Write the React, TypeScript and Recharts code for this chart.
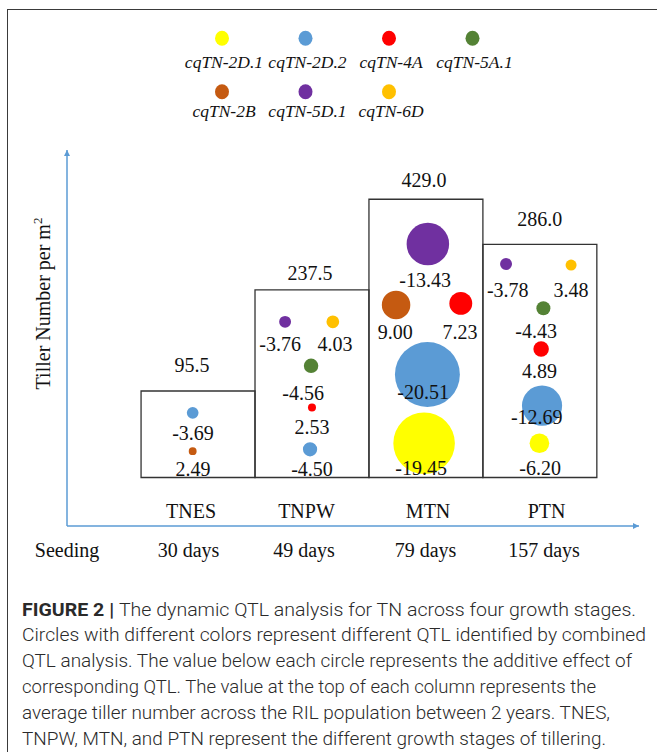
import React from 'react';
import { ComposedChart, ReferenceArea, Scatter, XAxis, YAxis, ZAxis, Legend } from 'recharts';

// ---------------- data ----------------
const stages = ['TNES', 'TNPW', 'MTN', 'PTN'];
const stageDays = ['30 days', '49 days', '79 days', '157 days'];
const originLabel = 'Seeding';
const meanTillerNumber = [95.5, 237.5, 429.0, 286.0];

const qtlNames = ['cqTN-2D.1', 'cqTN-2D.2', 'cqTN-4A', 'cqTN-5A.1', 'cqTN-2B', 'cqTN-5D.1', 'cqTN-6D'];
const qtlColors = ['#FFFF00', '#5B9BD5', '#FF0000', '#548235', '#C55A11', '#7030A0', '#FFC000'];

// additive effect of each QTL at each stage (null = not detected)
const effect2D1 = [null, null, -19.45, -6.2];
const effect2D2 = [-3.69, -4.5, -20.51, -12.69];
const effect4A = [null, 2.53, 7.23, 4.89];
const effect5A1 = [null, -4.56, null, -4.43];
const effect2B = [2.49, null, 9.0, null];
const effect5D1 = [null, -3.76, -13.43, -3.78];
const effect6D = [null, 4.03, null, 3.48];
const qtlEffects: any[] = [effect2D1, effect2D2, effect4A, effect5A1, effect2B, effect5D1, effect6D];

// ---------------- schematic placement (offset across column, level 0-100) ----------------
const spot2D1 = [null, null, [-0.016, 22.0], [-0.004, 22.0]];
const spot2D2 = [[-0.047, 30.1], [-0.017, 20.4], [0.013, 40.3], [0.019, 32.0]];
const spot4A = [null, [0, 31.5], [0.306, 59.2], [0.011, 47.1]];
const spot5A1 = [null, [-0.008, 42.6], null, [0.031, 57.9]];
const spot2B = [[-0.047, 19.9], null, [-0.262, 58.8], null];
const spot5D1 = [null, [-0.236, 54.3], [0.017, 75.0], [-0.297, 69.7]];
const spot6D = [null, [0.183, 54.3], null, [0.274, 69.4]];
const qtlSpots: any[] = [spot2D1, spot2D2, spot4A, spot5A1, spot2B, spot5D1, spot6D];

const tag2D1 = [null, null, [-0.042, 15.4], [0.002, 15.3]];
const tag2D2 = [[-0.044, 24.8], [0, 15.1], [-0.025, 35.7], [-0.027, 29.1]];
const tag4A = [null, [0, 26.4], [0.3, 51.7], [-0.004, 41.2]];
const tag5A1 = [null, [-0.078, 35.3], null, [-0.033, 51.9]];
const tag2B = [[-0.044, 15.2], null, [-0.27, 51.7], null];
const tag5D1 = [null, [-0.28, 48.4], [-0.007, 65.4], [-0.282, 62.8]];
const tag6D = [null, [0.203, 48.4], null, [0.274, 62.8]];
const qtlTags: any[] = [tag2D1, tag2D2, tag4A, tag5A1, tag2B, tag5D1, tag6D];

const columnFloor = 12.9;
const columnTop = [35.9, 62.8, 86.9, 74.9];
const meanTagSpots = [[-0.053, 42.8], [-0.017, 67.3], [-0.016, 92.0], [0, 81.6]];
const tickSpots = [-1.15, -0.083, 0.93, 1.997, 3.037];

const captionLines = [
  ['FIGURE 2 | ', 'The dynamic QTL analysis for TN across four growth stages.'],
  ['', 'Circles with different colors represent different QTL identified by combined'],
  ['', 'QTL analysis. The value below each circle represents the additive effect of'],
  ['', 'corresponding QTL. The value at the top of each column represents the'],
  ['', 'average tiller number across the RIL population between 2 years. TNES,'],
  ['', 'TNPW, MTN, and PTN represent the different growth stages of tillering.'],
];
const captionWidths = [614, 624, 610, 574, 588, 584];

// ---------------- derived tables ----------------
const qtlSeries = qtlNames.map((name, k) => ({
  name,
  color: qtlColors[k],
  points: qtlEffects[k]
    .map((e: any, i: number) =>
      e == null ? null : { x: i + qtlSpots[k][i][0], y: qtlSpots[k][i][1], z: e * e, effect: e }
    )
    .filter(Boolean),
}));

const effectTags = qtlNames.flatMap((name, k) =>
  qtlEffects[k]
    .map((e: any, i: number) =>
      e == null ? null : { x: i + qtlTags[k][i][0], y: qtlTags[k][i][1], text: e.toFixed(2) }
    )
    .filter(Boolean)
);
const meanTags = meanTillerNumber.map((v, i) => ({
  x: i + meanTagSpots[i][0],
  y: meanTagSpots[i][1],
  text: v.toFixed(1),
}));
const allTags = [...meanTags, ...effectTags];

// ---------------- styling ----------------
const SERIF = "'Liberation Serif', 'Times New Roman', Times, serif";
const SANS = "Roboto, 'Liberation Sans', Arial, sans-serif";
const AXIS_BLUE = '#5B9BD5';
const XMIN = -1.15;
const XMAX = 3.87;

const TagShape = (p: any) => (
  <text
    x={p.cx}
    y={p.cy}
    textAnchor="middle"
    dominantBaseline="central"
    fontFamily={SERIF}
    fontSize={20}
    fill="#111"
  >
    {p.payload.text}
  </text>
);

const renderTick = (p: any) => {
  const i = p.index;
  if (i === 0) {
    return (
      <text x={p.x} y={p.y + 24} textAnchor="middle" dominantBaseline="central" fontFamily={SERIF} fontSize={20} fill="#111">
        {originLabel}
      </text>
    );
  }
  return (
    <g>
      <text x={p.x + 2.5} y={p.y - 15} textAnchor="middle" dominantBaseline="central" fontFamily={SERIF} fontSize={20} fill="#111">
        {stages[i - 1]}
      </text>
      <text x={p.x} y={p.y + 24} textAnchor="middle" dominantBaseline="central" fontFamily={SERIF} fontSize={20} fill="#111">
        {stageDays[i - 1]}
      </text>
    </g>
  );
};

const renderYLabel = (props: any) => {
  const vb = props.viewBox || { x: 0, y: 150, width: 67, height: 376 };
  const cx = vb.x + vb.width - 17;
  const cy = vb.y + 153.5;
  return (
    <text
      x={cx}
      y={cy}
      transform={`rotate(-90, ${cx}, ${cy})`}
      textAnchor="middle"
      fontFamily={SERIF}
      fontSize={20}
      fill="#111"
    >
      Tiller Number per m
      <tspan dy={-8} fontSize={13}>2</tspan>
    </text>
  );
};

const renderLegend = (props: any) => {
  const payload = (props.payload || []).filter((e: any) => qtlNames.includes(e.value));
  const items = qtlNames.map((n, k) => {
    const found = payload.find((e: any) => e.value === n);
    return { name: n, color: (found && found.color) || qtlColors[k] };
  });
  return (
    <svg width={657} height={130}>
      {items.map((it, i) => {
        const row = i < 4 ? 0 : 1;
        const col = row ? i - 4 : i;
        const cx = 222 + col * 83.5;
        const cy = row ? 91.7 : 38.3;
        const ty = row ? 110.7 : 62;
        return (
          <g key={it.name}>
            <ellipse cx={cx} cy={cy} rx={7} ry={7.5} fill={it.color} />
            <text
              x={cx + 2}
              y={ty}
              textAnchor="middle"
              dominantBaseline="central"
              fontFamily={SERIF}
              fontStyle="italic"
              fontSize={17.5}
              fill="#111"
            >
              {it.name}
            </text>
          </g>
        );
      })}
    </svg>
  );
};

export default function App() {
  return (
    <div
      style={{
        position: 'absolute',
        left: 0,
        top: 0,
        width: 657,
        height: 752,
        overflow: 'hidden',
        background: '#fff',
      }}
    >
      <svg width={0} height={0} style={{ position: 'absolute' }}>
        <defs>
          <marker
            id="axisArrow"
            viewBox="0 0 10 10"
            refX={10}
            refY={5}
            markerWidth={7}
            markerHeight={6}
            markerUnits="userSpaceOnUse"
            orient="auto-start-reverse"
          >
            <path d="M0,0 L10,5 L0,10 z" fill={AXIS_BLUE} />
          </marker>
        </defs>
      </svg>
      <div
        style={{
          position: 'absolute',
          left: 7,
          top: 9,
          width: 700,
          height: 800,
          borderLeft: '1.5px solid #3a3a3a',
          borderTop: '1.5px solid #3a3a3a',
        }}
      />
      <div style={{ position: 'absolute', left: 0, top: 0 }}>
        <ComposedChart width={657} height={590} margin={{ top: 150, right: 18, bottom: 24, left: 0 }}>
          <XAxis
            type="number"
            dataKey="x"
            domain={[XMIN, XMAX]}
            allowDataOverflow
            ticks={tickSpots}
            interval={0}
            tickSize={0}
            tickMargin={0}
            tickLine={false}
            axisLine={{ stroke: AXIS_BLUE, strokeWidth: 1.5, markerEnd: 'url(#axisArrow)' }}
            tick={renderTick}
            height={40}
          />
          <YAxis
            type="number"
            dataKey="y"
            domain={[0, 100]}
            allowDataOverflow
            width={67}
            tick={false}
            tickLine={false}
            axisLine={{ stroke: AXIS_BLUE, strokeWidth: 1.5, markerStart: 'url(#axisArrow)' }}
            label={renderYLabel}
          />
          <ZAxis type="number" dataKey="z" domain={[0, 400]} range={[0, 3311]} />
          <Legend
            verticalAlign="middle"
            layout="horizontal"
            content={renderLegend}
            wrapperStyle={{ position: 'absolute', top: 0, left: 0, width: 657, height: 130 }}
          />
          {stages.map((s, i) => (
            <ReferenceArea
              key={s}
              x1={i - 0.5}
              x2={i + 0.5}
              y1={columnFloor}
              y2={columnTop[i]}
              fill="none"
              fillOpacity={0}
              stroke="#333333"
              strokeWidth={1.3}
              strokeOpacity={1}
            />
          ))}
          {qtlSeries.map((s) => (
            <Scatter
              key={s.name}
              name={s.name}
              data={s.points}
              fill={s.color}
              shape="circle"
              isAnimationActive={false}
            />
          ))}
          <Scatter name="tags" data={allTags} shape={TagShape} legendType="none" isAnimationActive={false} />
        </ComposedChart>
      </div>
      <svg width={657} height={752} style={{ position: 'absolute', left: 0, top: 0, pointerEvents: 'none' }}>
        {captionLines.map((ln, k) => (
          <text
            key={k}
            x={22}
            y={615.5 + 25.8 * k}
            fontFamily={SANS}
            fontWeight={300}
            fontSize={17.5}
            fill="#2a2a2a"
            textLength={captionWidths[k]}
            lengthAdjust="spacingAndGlyphs"
          >
            {ln[0] ? <tspan fontWeight={700}>{ln[0]}</tspan> : null}
            {ln[1]}
          </text>
        ))}
      </svg>
    </div>
  );
}
